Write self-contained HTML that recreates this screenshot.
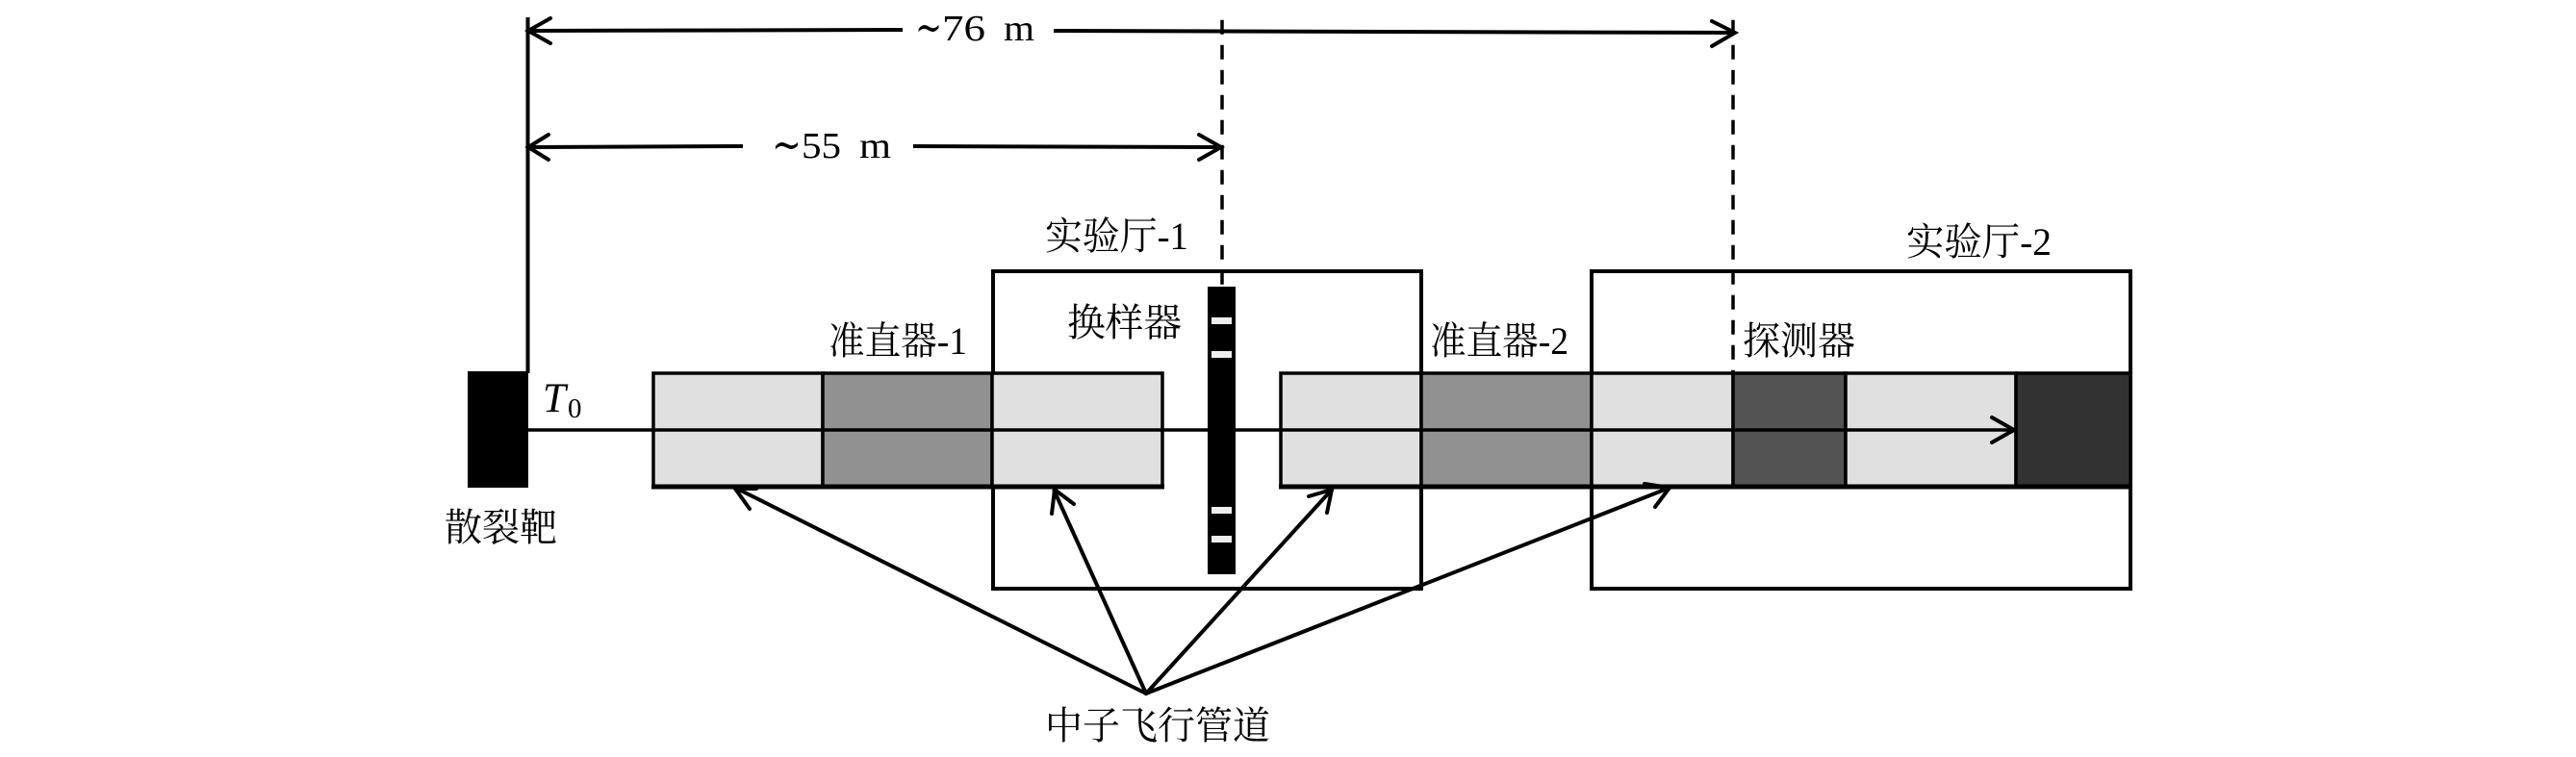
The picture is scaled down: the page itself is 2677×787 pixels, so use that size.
<!DOCTYPE html>
<html><head><meta charset="utf-8">
<style>
html,body{margin:0;padding:0;background:#fff;width:2677px;height:787px;overflow:hidden}
svg{display:block}
.c{font-family:"Liberation Serif","Noto Serif CJK SC",serif;font-size:40px;fill:#000}
.m{font-family:"Liberation Serif",serif;font-size:38px;fill:#000}
.t{font-family:"Liberation Serif","DejaVu Serif",serif;font-size:46px;fill:#000}
</style></head>
<body>
<svg width="2677" height="787" viewBox="0 0 2677 787" xmlns="http://www.w3.org/2000/svg">
<rect width="2677" height="787" fill="#fff"/>

<!-- halls -->
<rect x="1032" y="282" width="445" height="330" fill="none" stroke="#000" stroke-width="4"/>
<rect x="1654" y="282" width="560" height="330" fill="none" stroke="#000" stroke-width="4"/>

<!-- pipes -->
<g stroke="#000" stroke-width="3.5">
<rect x="679" y="388" width="176" height="118" fill="#e0e0e0"/>
<rect x="855" y="388" width="176" height="118" fill="#919191"/>
<rect x="1031" y="388" width="177" height="118" fill="#e0e0e0"/>
<rect x="1331" y="388" width="146" height="118" fill="#e0e0e0"/>
<rect x="1477" y="388" width="177" height="118" fill="#919191"/>
<rect x="1654" y="388" width="147" height="118" fill="#e0e0e0"/>
<rect x="1801" y="388" width="117" height="118" fill="#535353"/>
<rect x="1918" y="388" width="177" height="118" fill="#e0e0e0"/>
<rect x="2095" y="388" width="119" height="118" fill="#323232"/>
</g>
<line x1="677" y1="506" x2="1210" y2="506" stroke="#000" stroke-width="5"/>
<line x1="1329" y1="506" x2="2216" y2="506" stroke="#000" stroke-width="5"/>

<!-- target -->
<rect x="486" y="386" width="63" height="121" fill="#000"/>
<line x1="548.5" y1="18" x2="548.5" y2="388" stroke="#000" stroke-width="4"/>

<!-- beam -->
<line x1="549" y1="447" x2="2093" y2="447" stroke="#000" stroke-width="3.5"/>
<polyline points="2070,434 2093,447 2070,460" fill="none" stroke="#000" stroke-width="4" stroke-linecap="round"/>

<!-- dashed -->
<line x1="1270" y1="20.7" x2="1270" y2="298" stroke="#000" stroke-width="3.5" stroke-dasharray="15 11"/>
<line x1="1801" y1="20.7" x2="1801" y2="388" stroke="#000" stroke-width="3.5" stroke-dasharray="15 11"/>

<!-- sample changer -->
<rect x="1255" y="298" width="29" height="299" fill="#000"/>
<g fill="#eee">
<rect x="1259" y="330" width="21" height="7"/>
<rect x="1259" y="365" width="21" height="7"/>
<rect x="1259" y="527" width="21" height="7"/>
<rect x="1259" y="557" width="21" height="7"/>
</g>

<!-- dimension arrows -->
<g fill="none" stroke="#000" stroke-width="4" stroke-linecap="round">
<line x1="549" y1="32" x2="938" y2="31" stroke-linecap="butt"/>
<line x1="1095" y1="32" x2="1802" y2="34" stroke-linecap="butt"/>
<polyline points="572,19 549,32 572,45"/>
<polyline points="1779,22 1803,34 1779,48"/>
<line x1="549" y1="153" x2="772" y2="152" stroke-linecap="butt"/>
<line x1="949" y1="152" x2="1269" y2="153" stroke-linecap="butt"/>
<polyline points="570,140 549,153 570,166"/>
<polyline points="1246,140 1269,153 1246,166"/>
</g>

<!-- pointer arrows -->
<g fill="none" stroke="#000" stroke-width="4" stroke-linecap="round">
<line x1="1191" y1="721" x2="764" y2="507"/>
<line x1="1191" y1="721" x2="1095.5" y2="510"/>
<line x1="1191" y1="721" x2="1384" y2="509"/>
<line x1="1191" y1="721" x2="1735" y2="507"/>
<polyline points="779,529 764,508 786,508"/>
<polyline points="1093,534 1096,509 1116,524"/>
<polyline points="1360,516 1384,509 1379,533"/>
<polyline points="1709,503 1735,507 1720,527"/>
</g>

<!-- labels -->
<text class="c" x="1086" y="259" textLength="149" lengthAdjust="spacingAndGlyphs">实验厅-1</text>
<text class="c" x="1981" y="265" textLength="151" lengthAdjust="spacingAndGlyphs">实验厅-2</text>
<text class="c" x="1109" y="349" textLength="119" lengthAdjust="spacingAndGlyphs">换样器</text>
<text class="c" x="861" y="368" textLength="144" lengthAdjust="spacingAndGlyphs">准直器-1</text>
<text class="c" x="1486" y="368" textLength="144" lengthAdjust="spacingAndGlyphs">准直器-2</text>
<text class="c" x="1811" y="368" textLength="117" lengthAdjust="spacingAndGlyphs">探测器</text>
<text class="c" x="462" y="562" textLength="117" lengthAdjust="spacingAndGlyphs">散裂靶</text>
<text class="c" x="1086" y="768" textLength="234" lengthAdjust="spacingAndGlyphs">中子飞行管道</text>

<text class="t" x="951" y="44" textLength="28" lengthAdjust="spacingAndGlyphs">∼</text>
<text class="m" x="979" y="42" textLength="45" lengthAdjust="spacingAndGlyphs">76</text>
<text class="m" x="1043" y="42" textLength="32" lengthAdjust="spacingAndGlyphs">m</text>
<text class="t" x="802" y="166" textLength="31" lengthAdjust="spacingAndGlyphs">∼</text>
<text class="m" x="833" y="164" textLength="41" lengthAdjust="spacingAndGlyphs">55</text>
<text class="m" x="893" y="164" textLength="33" lengthAdjust="spacingAndGlyphs">m</text>

<text x="564" y="428" font-family="Liberation Serif,serif" font-style="italic" font-size="43" fill="#000">T</text>
<text x="590" y="434" font-family="Liberation Serif,serif" font-size="29" fill="#000">0</text>
</svg>
</body></html>
